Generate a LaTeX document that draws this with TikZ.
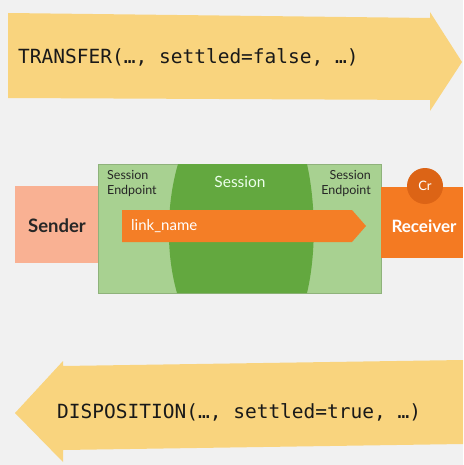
\documentclass[tikz,border=0pt]{standalone}
\usepackage{fontspec}
\setmainfont{Lato}
\newfontfamily\codefont{DejaVu Sans Mono}
\usetikzlibrary{positioning}

\definecolor{slidebg}{HTML}{F1F1F1}
\definecolor{msgyellow}{HTML}{F9D47E}
\definecolor{sendsalmon}{HTML}{F9B193}
\definecolor{paleGreen}{HTML}{A8D191}
\definecolor{deepGreen}{HTML}{63A83F}
\definecolor{linkOrange}{HTML}{F47E26}
\definecolor{recvOrange}{HTML}{F47A22}
\definecolor{creditOrange}{HTML}{DC6416}

\begin{document}
\begin{tikzpicture}[x=1pt, y=-1pt,
    msg/.style={font=\codefont\fontsize{19.5}{21}\selectfont, text=black!90, anchor=west, inner sep=0pt},
    endpt/.style={font=\fontsize{12.5}{15}\selectfont, text=black!85, inner sep=0pt}]
        % Background and frame:
        \fill[slidebg] (0, 0) rectangle (463, 465);
        \useasboundingbox (0, 0) rectangle (463, 465);
        % Message arrows:
        \fill[msgyellow] (8, 13) -- (430, 18) -- (430, 12) -- (462, 62) -- (430, 111) -- (430, 100) -- (8, 98) -- cycle;
        \fill[msgyellow] (463, 360) -- (63, 366) -- (63, 361) -- (15, 413) -- (63, 462) -- (63, 450) -- (463, 444) -- cycle;
        \node[msg] (transfer) at (18, 57) {TRANSFER(…, settled=false, …)};
        \node[msg] (disposition) at (57, 412) {DISPOSITION(…, settled=true, …)};
        % Sender, session and receiver:
        \fill[sendsalmon] (15, 186) rectangle (98, 263);
        \node[font=\bfseries\fontsize{18.5}{21}\selectfont, text=black!85] (sender) at (57, 226) {Sender};
        \fill[paleGreen] (98, 164) rectangle (381, 293);
        \draw[paleGreen!85!black, line width=.6] (98, 164) rectangle (381, 293);
        \fill[deepGreen] (178, 164) .. controls (166, 205) and (166, 255) .. (177, 293) -- (307, 293) .. controls (316, 255) and (316, 205) .. (307, 164) -- cycle;
        \node[font=\fontsize{15.5}{18}\selectfont, text=white!92!green] (session) at (240, 182) {Session};
        \node[endpt, align=left, anchor=north west] (leftend) at (107, 170) {Session\\Endpoint};
        \node[endpt, align=right, anchor=north east] (rightend) at (371, 170) {Session\\Endpoint};
        \fill[linkOrange] (122, 210) -- (352, 210) -- (366, 226) -- (352, 242) -- (122, 242) -- cycle;
        \node[font=\fontsize{15}{17}\selectfont, text=white, anchor=west, inner sep=0pt] (link) at (131, 226) {link\_name};
        \fill[recvOrange] (381, 187) rectangle (463, 258);
        \node[font=\bfseries\fontsize{17}{20}\selectfont, text=white] (receiver) at (424, 226) {Receiver};
        \node[circle, fill=creditOrange, minimum size=36, inner sep=0pt, text=white, font=\fontsize{13}{15}\selectfont] (credit) at (425, 186) {Cr};
    \end{tikzpicture}
\end{document}
